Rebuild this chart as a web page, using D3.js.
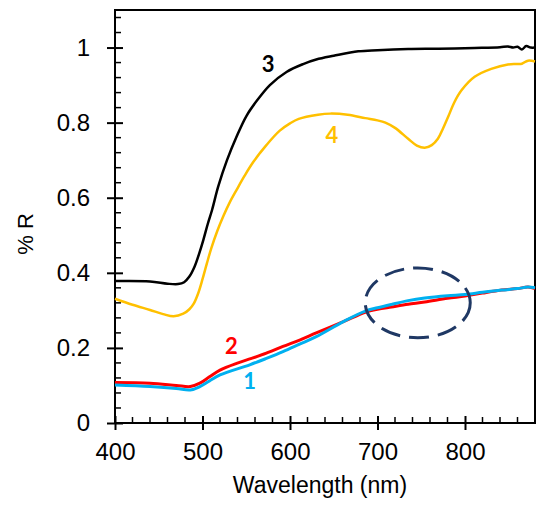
<!DOCTYPE html>
<html>
<head>
<meta charset="UTF-8">
<style>
  body { margin: 0; background: #fff; }
  svg text { font-family: 'Liberation Sans', Arial, sans-serif; }
</style>
</head>
<body>
<svg width="550" height="506"></svg>
<script src="https://d3js.org/d3.v7.min.js"></script>
<script>
// wavelength (nm) and reflectance
const wl3 = [400, 440, 460, 472, 479, 485, 491, 496, 501, 506, 511, 518, 528, 539, 550, 562, 577, 596, 615, 630, 650, 678, 700, 735, 770, 811, 840, 849, 855, 860, 865, 870, 875, 880];
const r3  = [0.378, 0.377, 0.371, 0.370, 0.375, 0.39, 0.417, 0.45, 0.488, 0.53, 0.568, 0.63, 0.70, 0.763, 0.817, 0.858, 0.90, 0.935, 0.956, 0.968, 0.978, 0.99, 0.993, 0.996, 0.997, 0.999, 1.001, 1.003, 1.0, 1.002, 0.995, 1.004, 1.0, 1.0];

const wl4 = [400, 420, 440, 455, 467, 478, 485, 490, 495, 500, 505, 510, 517, 524, 531, 539, 548, 558, 573, 588, 600, 610, 632, 646, 666, 686, 700, 709, 720, 735, 745, 754, 762, 769, 775, 781, 788, 796, 811, 830, 849, 860, 865, 872, 880];
const r4  = [0.331, 0.315, 0.301, 0.29, 0.284, 0.291, 0.303, 0.318, 0.345, 0.383, 0.425, 0.465, 0.512, 0.552, 0.587, 0.621, 0.658, 0.695, 0.74, 0.778, 0.798, 0.81, 0.821, 0.824, 0.821, 0.812, 0.806, 0.80, 0.786, 0.757, 0.739, 0.733, 0.74, 0.757, 0.785, 0.817, 0.855, 0.886, 0.922, 0.943, 0.955, 0.956, 0.957, 0.965, 0.963];

const wl2 = [400, 440, 470, 486, 497, 508, 520, 539, 556, 573, 592, 611, 630, 661, 686, 700, 716, 735, 754, 780, 800, 820, 842, 860, 872, 880];
const r2  = [0.108, 0.106, 0.100, 0.097, 0.106, 0.123, 0.141, 0.159, 0.172, 0.186, 0.204, 0.221, 0.24, 0.27, 0.295, 0.303, 0.309, 0.316, 0.322, 0.332, 0.338, 0.346, 0.354, 0.358, 0.362, 0.358];

const wl1 = [400, 440, 470, 486, 497, 508, 520, 554, 573, 592, 611, 630, 661, 686, 700, 716, 735, 754, 780, 800, 820, 842, 860, 872, 880];
const r1  = [0.101, 0.097, 0.092, 0.088, 0.097, 0.112, 0.128, 0.155, 0.172, 0.19, 0.21, 0.23, 0.27, 0.298, 0.307, 0.316, 0.326, 0.333, 0.339, 0.342, 0.348, 0.354, 0.358, 0.362, 0.36];

const xTicks = [400, 500, 600, 700, 800];
const yTicks = [0, 0.2, 0.4, 0.6, 0.8, 1];

// curve labels: name, wavelength, reflectance at label centre
const labels = [
  { name: "3", x: 575, y: 0.955, color: "#000000" },
  { name: "4", x: 648, y: 0.765, color: "#FFC000" },
  { name: "2", x: 533, y: 0.205, color: "#FF0000" },
  { name: "1", x: 554, y: 0.11, color: "#00B0F0" }
];

const svg = d3.select("svg");
const m = { left: 115, top: 10, right: 15, bottom: 83 };
const W = 550 - m.left - m.right, H = 506 - m.top - m.bottom;

const x = d3.scaleLinear().domain([400, 880]).range([0, W]);
const y = d3.scaleLinear().domain([0, 1.1]).range([H, 0]);

const g = svg.append("g").attr("transform", `translate(${m.left},${m.top})`);

// frame
g.append("rect").attr("width", W).attr("height", H)
  .attr("fill", "none").attr("stroke", "#000").attr("stroke-width", 2);

// minor ticks (inside)
const yMinor = d3.range(0, 1.1, 0.04).filter(v => Math.abs(v / 0.2 - Math.round(v / 0.2)) > 1e-6);
g.selectAll(".ymin").data(yMinor).enter().append("line")
  .attr("x1", 0).attr("x2", 6).attr("y1", d => y(d)).attr("y2", d => y(d))
  .attr("stroke", "#000").attr("stroke-width", 1.5);
const xMinor = d3.range(420, 880, 20).filter(v => v % 100 !== 0);
g.selectAll(".xmin").data(xMinor).enter().append("line")
  .attr("y1", H).attr("y2", H - 6).attr("x1", d => x(d)).attr("x2", d => x(d))
  .attr("stroke", "#000").attr("stroke-width", 1.5);

// major ticks via axes, crossing both sides
const yAxis = g.append("g").call(d3.axisLeft(y).tickValues(yTicks)
  .tickFormat(d => d).tickSizeInner(8).tickSizeOuter(0).tickPadding(17));
yAxis.select(".domain").remove();
yAxis.selectAll(".tick line").attr("x2", 8).attr("x1", -8).attr("stroke-width", 2);
yAxis.selectAll("text").attr("font-size", 24).attr("fill", "#000")
  .style("font-family", "'Liberation Sans', Arial, sans-serif");

const xAxis = g.append("g").attr("transform", `translate(0,${H})`)
  .call(d3.axisBottom(x).tickValues(xTicks).tickSizeInner(7).tickSizeOuter(0).tickPadding(13));
xAxis.select(".domain").remove();
xAxis.selectAll(".tick line").attr("y1", -7).attr("y2", 7).attr("stroke-width", 2);
xAxis.selectAll("text").attr("font-size", 24).attr("fill", "#000")
  .style("font-family", "'Liberation Sans', Arial, sans-serif");

// curves
const line = d3.line().x(d => x(d[0])).y(d => y(d[1])).curve(d3.curveCatmullRom.alpha(0.5));
const series = [
  { w: wl3, r: r3, color: "#000000", sw: 2.5 },
  { w: wl4, r: r4, color: "#FFC000", sw: 2.5 },
  { w: wl2, r: r2, color: "#FF0000", sw: 3 },
  { w: wl1, r: r1, color: "#00B0F0", sw: 3 }
];
series.forEach(s => {
  g.append("path").datum(d3.zip(s.w, s.r)).attr("d", line)
    .attr("fill", "none").attr("stroke", s.color).attr("stroke-width", s.sw)
    .attr("stroke-linejoin", "round");
});

// curve labels
g.selectAll(".lab").data(labels).enter().append("text")
  .attr("x", d => x(d.x)).attr("y", d => y(d.y)).attr("dy", "0.35em")
  .attr("text-anchor", "middle").attr("fill", d => d.color)
  .attr("font-size", 22).attr("font-weight", "bold")
  .style("font-family", "Lato, 'Open Sans', sans-serif")
  .text(d => d.name);

// dashed ellipse annotation
g.append("ellipse")
  .attr("cx", x(746)).attr("cy", y(0.32))
  .attr("rx", x(806) - x(746)).attr("ry", y(0.32) - y(0.413))
  .attr("fill", "none").attr("stroke", "#1F3864").attr("stroke-width", 3)
  .attr("stroke-dasharray", "20,9");

// axis titles
svg.append("text").attr("x", m.left + W / 2 - 5).attr("y", 493)
  .attr("text-anchor", "middle").attr("font-size", 23).text("Wavelength (nm)");
svg.append("text").attr("transform", "translate(33,234) rotate(-90)")
  .attr("text-anchor", "middle").attr("font-size", 22).text("% R");
</script>
</body>
</html>
